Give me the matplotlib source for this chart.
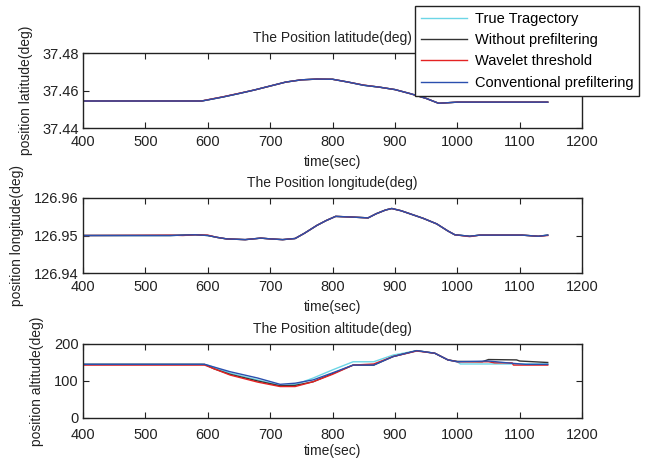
import matplotlib
matplotlib.use("Agg")
import matplotlib.pyplot as plt

plt.rcParams['font.family'] = ['Liberation Sans', 'DejaVu Sans']

# ---- data ----
lat_t = [400, 590, 600, 625, 650, 675, 700, 725, 750, 775, 800, 825, 850, 875, 900,
         925, 950, 970, 990, 1000, 1145]
lat_true = [37.4544, 37.4544, 37.4550, 37.4566, 37.4584, 37.4603, 37.4624, 37.4645, 37.4657,
            37.4661, 37.4660, 37.4645, 37.4628, 37.4618, 37.4605, 37.4583, 37.4558,
            37.4532, 37.4536, 37.4538, 37.4538]
lat_nopre = [37.4544, 37.4544, 37.4550, 37.4566, 37.4584, 37.4603, 37.4624, 37.4645, 37.4657,
             37.4661, 37.4660, 37.4645, 37.4628, 37.4618, 37.4605, 37.4583, 37.4558,
             37.4532, 37.4536, 37.4538, 37.4538]
lat_wave = [37.4544, 37.4544, 37.4551, 37.4567, 37.4585, 37.4603, 37.4624, 37.4645, 37.4657,
            37.4661, 37.4660, 37.4645, 37.4629, 37.4618, 37.4605, 37.4583, 37.4558,
            37.4532, 37.4536, 37.4538, 37.4538]
lat_conv = [37.4544, 37.4544, 37.4550, 37.4566, 37.4584, 37.4603, 37.4624, 37.4645, 37.4657,
            37.4661, 37.4660, 37.4645, 37.4628, 37.4618, 37.4605, 37.4583, 37.4558,
            37.4532, 37.4536, 37.4538, 37.4538]

lon_t = [400, 540, 560, 580, 600, 615, 630, 660, 685, 700, 720, 740, 755, 775, 790, 805, 833,
         857, 870, 885, 895, 910, 945, 967, 985, 996, 1020, 1036, 1104, 1130, 1145]
lon_true = [126.9500, 126.9500, 126.9501, 126.9502, 126.9500, 126.9495, 126.9491, 126.9489,
            126.9493, 126.9491, 126.9489, 126.9492, 126.9506, 126.9527, 126.9540, 126.9551,
            126.9549, 126.9547, 126.9558, 126.9568, 126.9572, 126.9566, 126.9546, 126.9531,
            126.9512, 126.9502, 126.9498, 126.9501, 126.9501, 126.9498, 126.9501]
lon_nopre = [126.9500, 126.9500, 126.9501, 126.9502, 126.9500, 126.9495, 126.9491, 126.9489,
             126.9493, 126.9491, 126.9489, 126.9492, 126.9506, 126.9527, 126.9540, 126.9551,
             126.9549, 126.9547, 126.9558, 126.9568, 126.9572, 126.9566, 126.9546, 126.9531,
             126.9512, 126.9502, 126.9498, 126.9501, 126.9501, 126.9498, 126.9501]
lon_wave = [126.9500, 126.9501, 126.9500, 126.9502, 126.9501, 126.9495, 126.9491, 126.9489,
            126.9493, 126.9491, 126.9489, 126.9492, 126.9506, 126.9527, 126.9540, 126.9551,
            126.9549, 126.9547, 126.9558, 126.9568, 126.9572, 126.9566, 126.9546, 126.9531,
            126.9512, 126.9502, 126.9497, 126.9501, 126.9501, 126.9498, 126.9500]
lon_conv = [126.9500, 126.9500, 126.9501, 126.9502, 126.9500, 126.9495, 126.9491, 126.9489,
            126.9493, 126.9491, 126.9489, 126.9492, 126.9506, 126.9527, 126.9540, 126.9551,
            126.9549, 126.9547, 126.9558, 126.9568, 126.9572, 126.9566, 126.9546, 126.9531,
            126.9512, 126.9502, 126.9498, 126.9501, 126.9501, 126.9498, 126.9501]

alt_true_t = [400, 590, 600, 636, 680, 716, 740, 769, 800, 833, 866, 897, 935, 964, 985, 1000, 1005, 1145]
alt_true = [145, 145, 143, 121, 103, 88, 90, 108, 130, 152, 152, 170, 182, 175, 157, 152, 146, 146]
alt_nopre_t = [400, 595, 610, 636, 680, 716, 740, 769, 800, 833, 866, 897, 935, 964, 985, 1000, 1040, 1050, 1095, 1100, 1145]
alt_nopre = [145, 145, 133, 118, 100, 87, 88, 98, 120, 143, 143, 166, 182, 175, 157, 153, 152, 158, 157, 154, 150]
alt_wave_t = [400, 595, 636, 680, 716, 740, 769, 800, 833, 866, 897, 935, 964, 985, 1000, 1050, 1060, 1088, 1090, 1145]
alt_wave = [143, 143, 116, 97, 85, 85, 98, 118, 143, 146, 166, 181, 175, 157, 152, 152, 149, 149, 143, 143]
alt_conv_t = [400, 595, 636, 680, 716, 740, 769, 800, 833, 866, 897, 935, 964, 985, 1000, 1050, 1087, 1110, 1145]
alt_conv = [145, 145, 125, 108, 91, 94, 103, 122, 143, 143, 166, 182, 175, 157, 152, 154, 148, 145, 145]

labels = ['True Tragectory', 'Without prefiltering', 'Wavelet threshold', 'Conventional prefiltering']
colors = ['#6cd6e6', '#333333', '#e42222', '#2a4fae']

fig = plt.figure(figsize=(6.46, 4.61), dpi=100)
rects = [[0.1285, 0.7223, 0.7725, 0.1627],
         [0.1285, 0.4078, 0.7725, 0.1627],
         [0.1285, 0.0933, 0.7725, 0.1605]]

panels = [
    (rects[0], [(lat_t, lat_true), (lat_t, lat_nopre), (lat_t, lat_wave), (lat_t, lat_conv)],
     (37.44, 37.48), [37.44, 37.46, 37.48], ['37.44', '37.46', '37.48'],
     'The Position latitude(deg)', 'position latitude(deg)', 5, 4),
    (rects[1], [(lon_t, lon_true), (lon_t, lon_nopre), (lon_t, lon_wave), (lon_t, lon_conv)],
     (126.94, 126.96), [126.94, 126.95, 126.96], ['126.94', '126.95', '126.96'],
     'The Position longitude(deg)', 'position longitude(deg)', 5, 4),
    (rects[2], [(alt_true_t, alt_true), (alt_nopre_t, alt_nopre), (alt_wave_t, alt_wave), (alt_conv_t, alt_conv)],
     (0, 200), [0, 100, 200], ['0', '100', '200'],
     'The Position altitude(deg)', 'position altitude(deg)', 7, 2),
]

handles = None
for rect, series, ylim, yt, ytl, title, ylab, xpad, xlpad in panels:
    ax = fig.add_axes(rect)
    hs = []
    for (t, v), c, lab in zip(series, colors, labels):
        h, = ax.plot(t, v, color=c, lw=1.0, label=lab)
        hs.append(h)
    if handles is None:
        handles = hs
    ax.set_xlim(400, 1200)
    ax.set_ylim(*ylim)
    ax.set_xticks([400, 500, 600, 700, 800, 900, 1000, 1100, 1200])
    ax.set_yticks(yt)
    ax.set_yticklabels(ytl)
    ax.tick_params(direction='in', top=True, right=True, labelsize=10.5,
                   length=4, width=0.8, colors='#222222')
    ax.tick_params(axis='x', pad=xpad)
    ax.tick_params(axis='y', pad=3)
    for s in ax.spines.values():
        s.set_linewidth(1.0)
        s.set_color('#222222')
    ax.set_title(title, fontsize=10, pad=8, color='#222222')
    ax.set_xlabel('time(sec)', fontsize=10, labelpad=xlpad, color='#222222')
    ax.set_ylabel(ylab, fontsize=10, labelpad=7, color='#222222')

leg = fig.legend(handles, labels, loc='upper right', bbox_to_anchor=(639 / 646, 1 - 6 / 461),
                 borderaxespad=0,
                 fontsize=10.5, frameon=True, fancybox=False, framealpha=1,
                 edgecolor='#222222', handlelength=3.2, handletextpad=0.5,
                 borderpad=0.4, labelspacing=0.5)
leg.get_frame().set_linewidth(1.0)

fig.savefig('out.png', dpi=100)
